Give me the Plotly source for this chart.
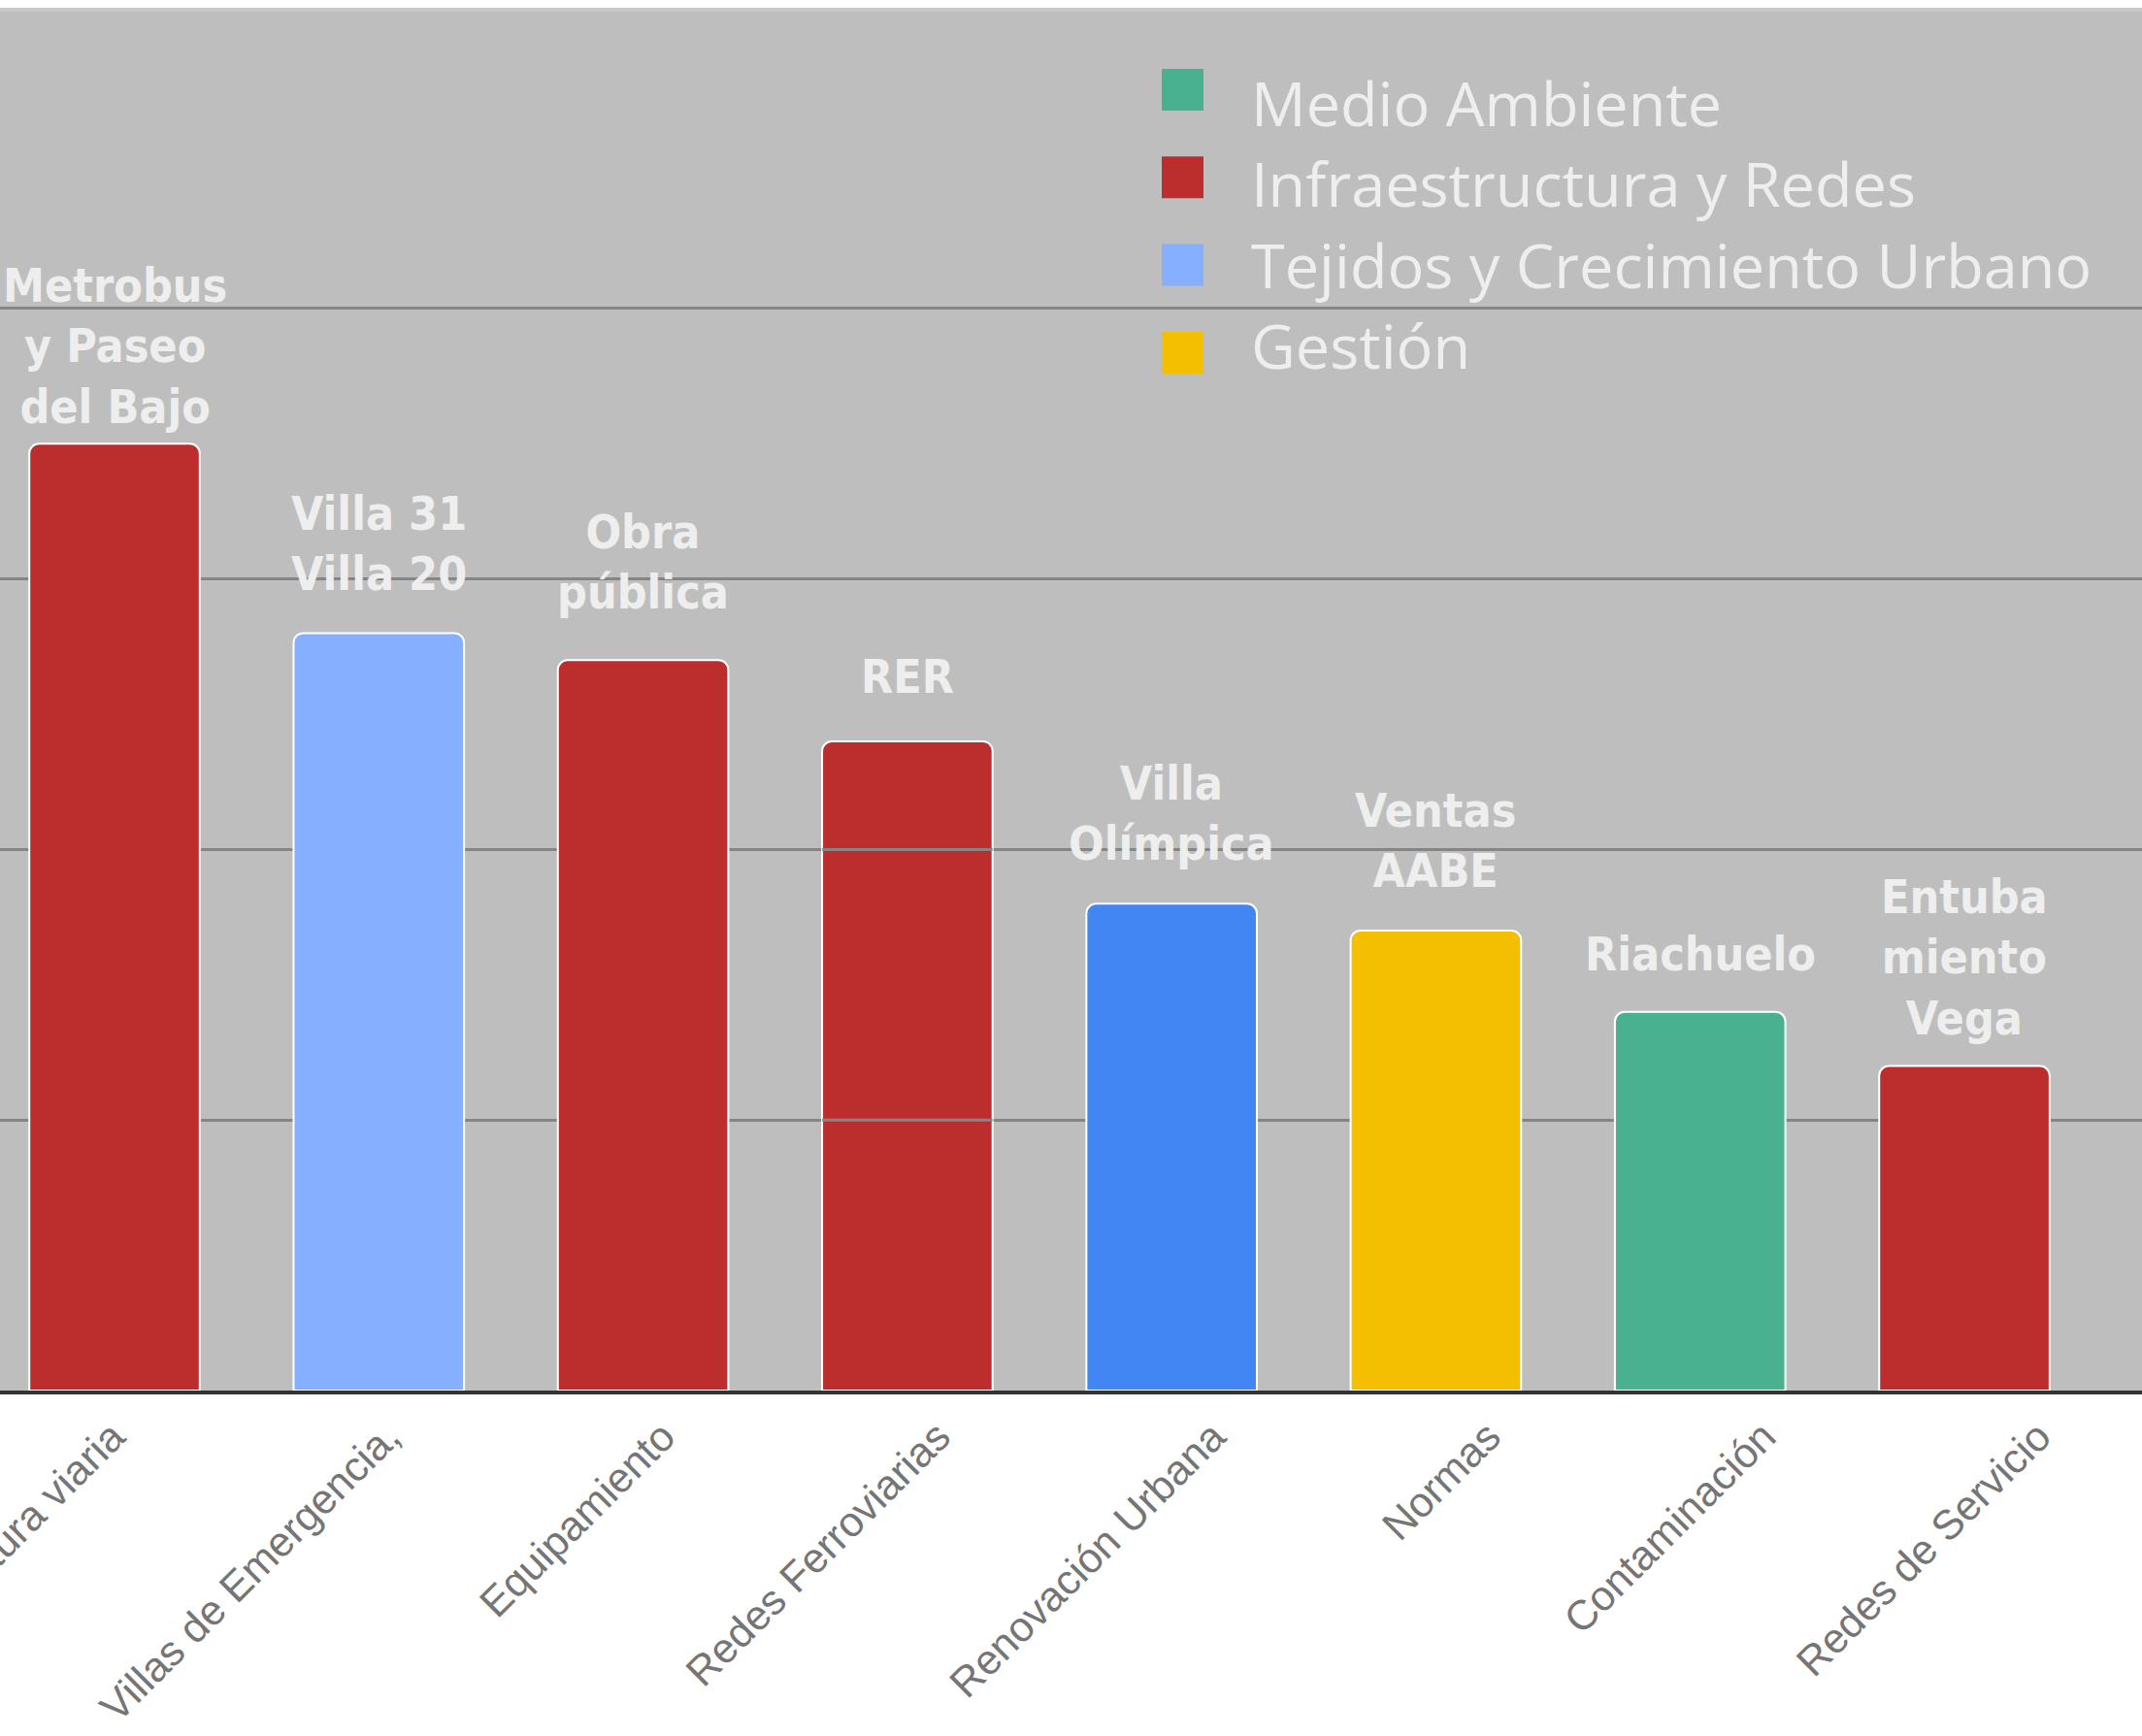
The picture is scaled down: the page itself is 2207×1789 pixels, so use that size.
import plotly.graph_objects as go

# ---------------- data ----------------
CATEGORIES = [
    "Infraestructura viaria",
    "Villas de Emergencia,",
    "Equipamiento",
    "Redes Ferroviarias",
    "Renovación Urbana",
    "Normas",
    "Contaminación",
    "Redes de Servicio",
]
VALUES = [3.5, 2.8, 2.7, 2.4, 1.8, 1.7, 1.4, 1.2]
BAR_LABELS = [
    "Metrobus<br>y Paseo<br>del Bajo",
    "Villa 31<br>Villa 20",
    "Obra<br>pública",
    "RER",
    "Villa<br>Olímpica",
    "Ventas<br>AABE",
    "Riachuelo",
    "Entuba<br>miento<br>Vega",
]
BAR_COLORS = ["#bc2e2e", "#86b0ff", "#bc2e2e", "#bc2e2e",
              "#4286f4", "#f3bf00", "#4ab190", "#bc2e2e"]
LEGEND_NAMES = ["Medio Ambiente", "Infraestructura y Redes",
                "Tejidos y Crecimiento Urbano", "Gestión"]
LEGEND_COLORS = ["#4ab190", "#bc2e2e", "#86b0ff", "#f3bf00"]
GRID_VALUES = [1, 2, 3, 4]

# ---------------- layout constants ----------------
W, H = 2207, 1789
M_TOP, M_BOTTOM = 8, 356
PLOT_H = H - M_TOP - M_BOTTOM
BG = "#bebebe"
GRID = "#858585"
TEXT_LIGHT = "#eeeeee"
BAR_WIDTH = 0.645
Y_TOP = 5.112
X_RANGE = [-0.4334, 7.672]

# label axis (tick labels laid out on a slightly wider pitch)
LABEL_START_PX = 116.0
LABEL_PITCH_PX = 283.5
X2_R0 = -LABEL_START_PX / LABEL_PITCH_PX
X2_RANGE = [X2_R0, X2_R0 + W / LABEL_PITCH_PX]

ANNOT_YSHIFT = [8, 31, 40, 37, 32, 32, 30, 19]


def px_x(px):
    return px / W


def px_y(py):
    return (H - M_BOTTOM - py) / PLOT_H


n = len(CATEGORIES)
fig = go.Figure()
fig.add_trace(go.Bar(
    x=CATEGORIES, y=VALUES, width=BAR_WIDTH,
    marker=dict(color=BAR_COLORS, line=dict(color="#ffffff", width=2)),
    showlegend=False, hoverinfo="x+y",
))
# helper trace carrying the tick-label axis
fig.add_trace(go.Scatter(
    x=list(range(n)), y=[0] * n, xaxis="x2", mode="markers",
    marker=dict(opacity=0, size=1), showlegend=False, hoverinfo="skip",
))

annotations = []
for i, (cat, txt, v) in enumerate(zip(CATEGORIES, BAR_LABELS, VALUES)):
    annotations.append(dict(
        x=cat, y=v, xref="x", yref="y", text=txt, showarrow=False,
        xanchor="center", yanchor="bottom", yshift=ANNOT_YSHIFT[i],
        align="center",
        font=dict(family="DejaVu Sans Condensed, DejaVu Sans", size=48,
                  color=TEXT_LIGHT, weight="bold"),
    ))

shapes = []
# top border line of the plot area
shapes.append(dict(type="line", xref="paper", yref="paper", x0=0, x1=1,
                   y0=px_y(10), y1=px_y(10), line=dict(color="#c8c8c8", width=4)))
# legend background (hides gridline behind legend text)
shapes.append(dict(type="rect", xref="paper", yref="paper", layer="between",
                   x0=px_x(1290), x1=px_x(2184), y0=px_y(400), y1=px_y(230),
                   fillcolor=BG, line=dict(width=0)))
# gridlines showing through the 4th bar
idx4 = 3
for g in GRID_VALUES:
    if g < VALUES[idx4]:
        shapes.append(dict(type="line", xref="x", yref="y", layer="above",
                           x0=idx4 - BAR_WIDTH / 2, x1=idx4 + BAR_WIDTH / 2,
                           y0=g, y1=g, line=dict(color=GRID, width=3)))

# manual legend
SQ_X0, SQ_SIZE, SQ_TOP0, SQ_PITCH = 1197, 43, 71, 90.3
TXT_X, TXT_Y0, TXT_PITCH = 1287, 105.5, 83.3
for k, (name, col) in enumerate(zip(LEGEND_NAMES, LEGEND_COLORS)):
    top = SQ_TOP0 + k * SQ_PITCH
    shapes.append(dict(type="rect", xref="paper", yref="paper", layer="above",
                       x0=px_x(SQ_X0), x1=px_x(SQ_X0 + SQ_SIZE),
                       y0=px_y(top + SQ_SIZE), y1=px_y(top),
                       fillcolor=col, line=dict(width=0)))
    annotations.append(dict(
        x=px_x(TXT_X), y=px_y(TXT_Y0 + k * TXT_PITCH), xref="paper", yref="paper",
        text=name, showarrow=False, xanchor="left", yanchor="middle",
        font=dict(family="Open Sans", size=63, color=TEXT_LIGHT),
    ))

fig.update_layout(
    width=W, height=H,
    margin=dict(l=0, r=0, t=M_TOP, b=M_BOTTOM, pad=0),
    paper_bgcolor="#ffffff", plot_bgcolor=BG,
    bargap=0.35, barcornerradius=10, showlegend=False,
    xaxis=dict(type="category", categoryorder="array", categoryarray=CATEGORIES,
               range=X_RANGE, showticklabels=False, ticks="", showgrid=False,
               showline=True, linecolor="#333333", linewidth=4, zeroline=False,
               automargin=False, fixedrange=True),
    xaxis2=dict(overlaying="x", anchor="y", side="bottom", range=X2_RANGE,
                tickmode="array", tickvals=list(range(n)), ticktext=CATEGORIES,
                tickangle=-45, ticks="outside", ticklen=4,
                tickcolor="rgba(0,0,0,0)", showgrid=False, showline=False,
                zeroline=False, automargin=False, ticklabeloverflow="allow",
                fixedrange=True,
                tickfont=dict(family="Liberation Sans, Arial", size=43, color="#757575")),
    yaxis=dict(range=[0, Y_TOP], tickmode="array", tickvals=GRID_VALUES,
               showticklabels=False, ticks="", showgrid=True, gridcolor=GRID,
               gridwidth=3, zeroline=False, showline=False, automargin=False,
               fixedrange=True),
    annotations=annotations, shapes=shapes,
)

fig.write_html("out.html", config={"displayModeBar": False},
               post_script="document.body.style.margin='0';document.body.style.overflow='hidden';")
